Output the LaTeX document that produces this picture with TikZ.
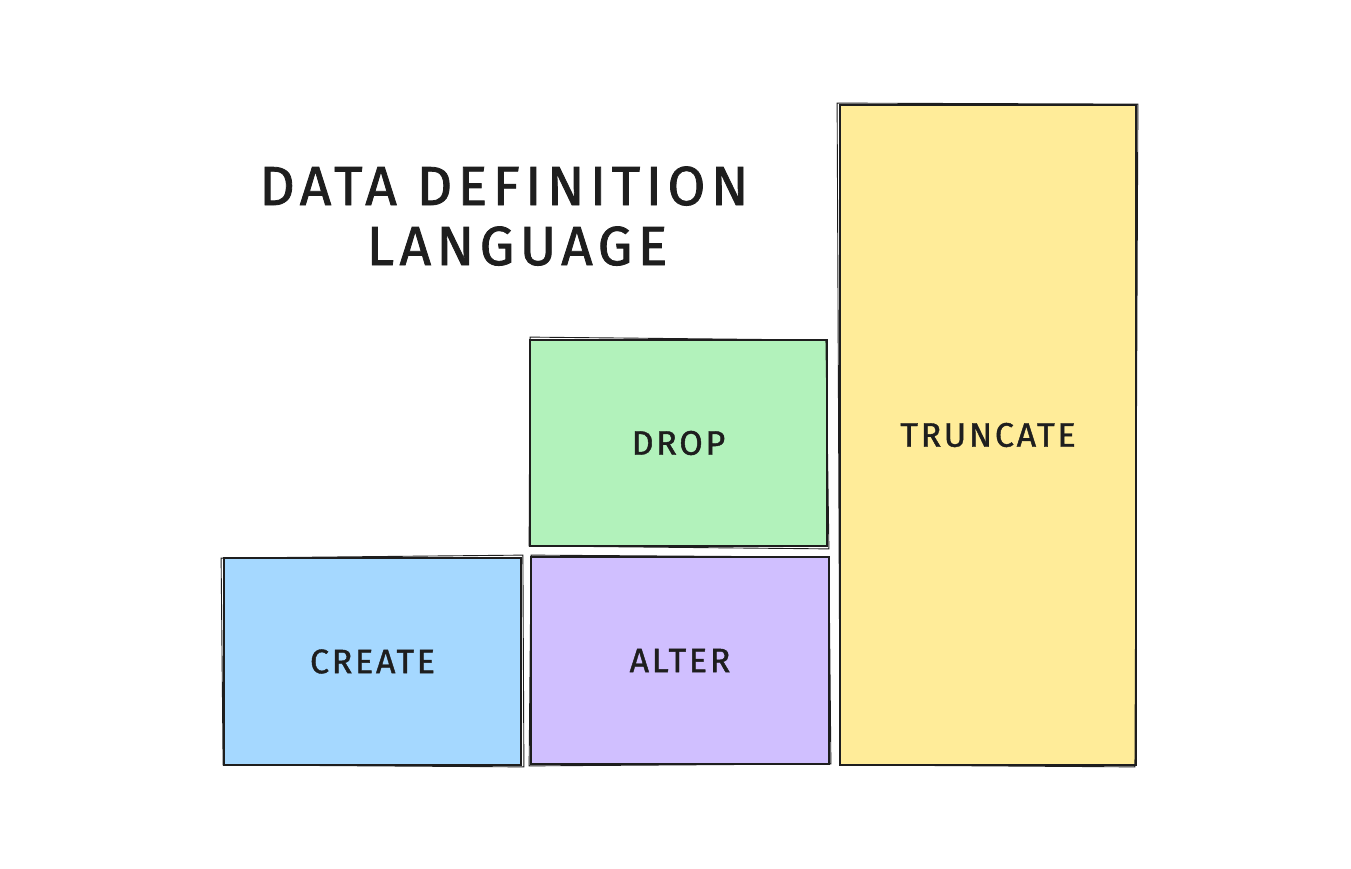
\documentclass[tikz,border=0pt]{standalone}
\usepackage{fontspec}
\setmainfont{Fira Sans}
\newfontfamily\handfont[LetterSpace=8,FakeBold=1.2]{Fira Sans}
\newfontfamily\titlefont[LetterSpace=10,FakeBold=1.5]{Fira Sans}
\definecolor{cblue}{HTML}{A5D8FF}
\definecolor{cgreen}{HTML}{B2F2BB}
\definecolor{cpurple}{HTML}{D0BFFF}
\definecolor{cyellow}{HTML}{FFEC99}
\definecolor{ink}{HTML}{1E1E1E}
\tikzset{
  blockbox/.style={draw=ink, line width=1.8pt, rectangle, inner sep=0pt, text=ink,
    font=\handfont\fontsize{34}{40}\selectfont},
  sketch/.style={draw=ink, line width=0.9pt},
  titletext/.style={text=ink, font=\titlefont\fontsize{55}{60}\selectfont, anchor=base, inner sep=0pt}
}
\begin{document}
\begin{tikzpicture}[x=1pt,y=-1pt]
\useasboundingbox (0,0) rectangle (1351,869);
\fill[white] (0,0) rectangle (1351,869);
\node[blockbox, fill=cblue, minimum width=297pt, minimum height=207pt] (create) at (372.5,661.5) {CREATE};
\node[blockbox, fill=cpurple, minimum width=298pt, minimum height=207pt] (alter) at (680,660.5) {ALTER};
\node[blockbox, fill=cgreen, minimum width=297pt, minimum height=206pt] (drop) at (678.5,443) {DROP};
\node[blockbox, fill=cyellow, minimum width=296pt, minimum height=660pt] (truncate) at (988,435) {TRUNCATE};
% sketchy second strokes
\draw[sketch] ([shift={(-2,1)}]create.north west) -- ([shift={(1,-2)}]create.north east) -- ([shift={(2,1)}]create.south east) -- ([shift={(0,-1)}]create.south west) -- cycle;
\draw[sketch] ([shift={(1,-1)}]alter.north west) -- ([shift={(-1,1)}]alter.north east) -- ([shift={(1,-1)}]alter.south east) -- ([shift={(-1,1)}]alter.south west) -- cycle;
\draw[sketch] ([shift={(1,-2)}]drop.north west) -- ([shift={(-2,1)}]drop.north east) -- ([shift={(1,2)}]drop.south east) -- ([shift={(0,-1)}]drop.south west) -- cycle;
\draw[sketch] ([shift={(-2,-1)}]truncate.north west) -- ([shift={(1,0)}]truncate.north east) -- ([shift={(-2,1)}]truncate.south east) -- ([shift={(1,-1)}]truncate.south west) -- cycle;
\node[titletext] (title1) at (504,205) {DATA DEFINITION};
\node[titletext] (title2) at (517,265) {LANGUAGE};
\end{tikzpicture}
\end{document}
